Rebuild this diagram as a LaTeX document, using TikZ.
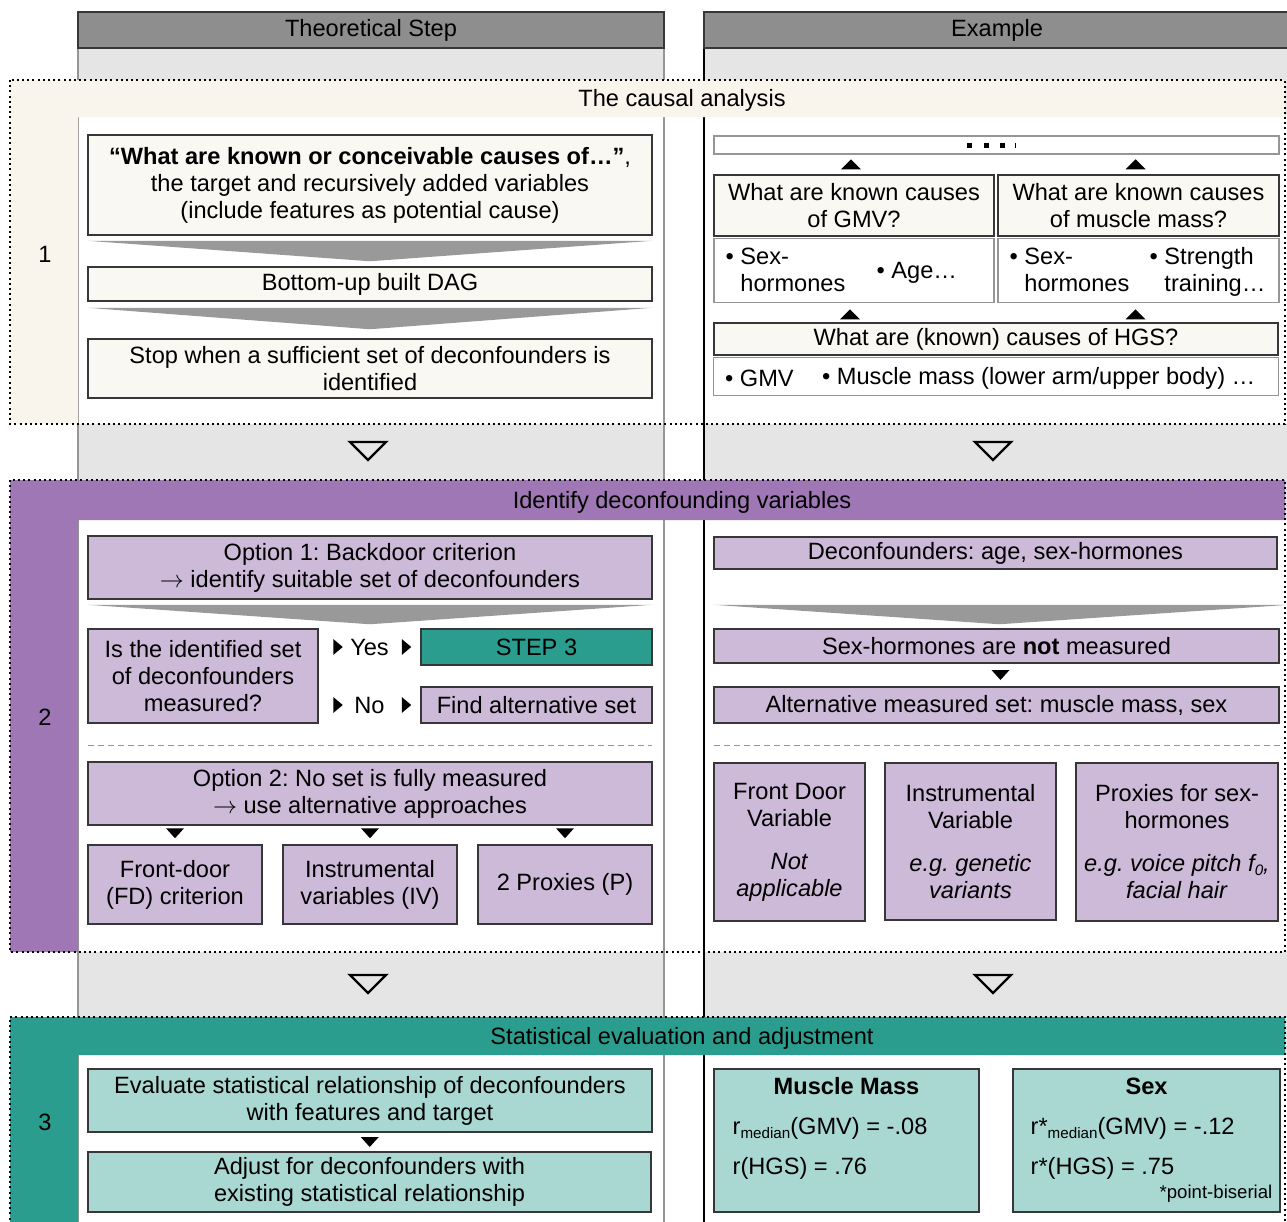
\documentclass[tikz,border=0pt]{standalone}
\usepackage{fontspec}
\setmainfont{Liberation Sans}
\usepackage{tikz}
\usetikzlibrary{calc,positioning}
\definecolor{hdrgray}{RGB}{142,142,142}
\definecolor{colgray}{RGB}{229,229,229}
\definecolor{creamband}{RGB}{249,245,237}
\definecolor{creambox}{RGB}{250,248,242}
\definecolor{lilacband}{RGB}{158,119,180}
\definecolor{lilacbox}{RGB}{205,185,216}
\definecolor{tealband}{RGB}{42,157,142}
\definecolor{tealbox}{RGB}{169,216,210}
\definecolor{wedgegray}{RGB}{153,153,153}
\definecolor{boxline}{RGB}{55,55,55}
\definecolor{softline}{RGB}{150,150,150}
\newcommand{\bul}[1]{•\ \begin{tabular}[t]{@{}l@{}}#1\end{tabular}}
\newcommand{\sublbl}[1]{\raisebox{-0.3ex}{\fontsize{7.6}{9}\selectfont #1}}
\newcommand{\arr}{$\rightarrow$}
\tikzset{
  txt/.style={font=\fontsize{11.8}{13.5}\selectfont, align=center, inner sep=0pt},
  px/.style 2 args={minimum width=#1*0.5pt, minimum height=#2*0.5pt},
  box/.style={txt, draw=boxline, line width=0.75pt},
  qbox/.style={box, fill=creambox},
  abox/.style={txt, draw=softline, line width=0.75pt, fill=white},
  pbox/.style={box, fill=lilacbox},
  tbox/.style={box, fill=tealbox},
  header/.style={box, fill=hdrgray, px={586}{36}},
  wedge/.style={fill=wedgegray},
  sect/.style={draw=black, line width=1pt, dash pattern=on 1pt off 1.6pt},
  sep/.style={draw=softline, line width=0.5pt, dash pattern=on 3pt off 2pt},
  dtri/.pic={\fill (-9,-5) -- (9,-5) -- (0,5) -- cycle;},
  utri/.pic={\fill (-10,5) -- (10,5) -- (0,-5) -- cycle;},
  rtri/.pic={\fill (-4.5,-8) -- (-4.5,8) -- (5,0) -- cycle;},
  otri/.pic={\draw[line width=1.2pt] (-18,-9) -- (18,-9) -- (0,9) -- cycle;},
}
\begin{document}
\frenchspacing
\begin{tikzpicture}[x=0.5pt,y=-0.5pt]
\useasboundingbox (0,0) rectangle (1287,1222);
\fill[colgray] (78,48) rectangle (664,1230);
\fill[colgray] (704,48) rectangle (1290,1230);
\fill[white] (78,117) rectangle (1290,424);
\fill[white] (78,520) rectangle (1290,952);
\fill[white] (78,1055) rectangle (1290,1230);
\draw[softline, line width=0.75pt] (78,48) -- (78,1230) (664,48) -- (664,1230);
\draw[black, line width=0.75pt] (704,48) -- (704,1230);
\fill[creamband] (10,80) rectangle (1285,117) (10,117) rectangle (78,424);
\fill[lilacband] (10,480) rectangle (1285,520) (10,520) rectangle (78,952);
\fill[tealband] (10,1017) rectangle (1285,1055) (10,1055) rectangle (78,1230);
\draw[sect] (10,80) rectangle (1285,424);
\draw[sect] (10,480) rectangle (1285,952);
\draw[sect] (10,1230) |- (1285,1017) -- (1285,1230);

\node[header] (hleft) at (371,30) {Theoretical Step};
\node[header] (hright) at (997,30) {Example};

\node[txt] (t1) at (682,100) {The causal analysis};
\node[txt] (t2) at (682,502) {Identify deconfounding variables};
\node[txt] (t3) at (682,1038) {Statistical evaluation and adjustment};
\node[txt] (n1) at (45,254) {1};
\node[txt] (n2) at (45,717) {2};
\node[txt] (n3) at (45,1122) {3};

\node[qbox, px={564}{100}] (known) at (370,185) {\textbf{“What are known or conceivable causes of…”},\\the target and recursively added variables\\(include features as potential cause)};
\node[qbox, px={564}{34}] (dag) at (370,284) {Bottom-up built DAG};
\node[qbox, px={564}{59}] (stop) at (370,368.5) {Stop when a sufficient set of deconfounders is\\identified};
\fill[wedge] ($(known.south west)+(0,5)$) -- ($(known.south east)+(0,5)$) -- ($(dag.north)+(0,-5)$) -- cycle;
\fill[wedge] ($(dag.south west)+(0,6)$) -- ($(dag.south east)+(0,6)$) -- ($(stop.north)+(0,-9)$) -- cycle;

\node[abox, px={565}{18}] (more) at (996.5,145) {};
\foreach \dx in {-30,-13,3}
  \fill ($(more.center)+(\dx,-2.5)$) rectangle ++(5,5);
\fill ($(more.center)+(18,-2.5)$) rectangle ++(1.2,5);
\node[qbox, px={280}{61}] (gmvq) at (854,205.5) {What are known causes\\of GMV?};
\node[abox, px={280}{64}, below=0.5pt of gmvq] (gmva) {};
\node[qbox, px={281}{61}] (mmq) at (1138.5,205.5) {What are known causes\\of muscle mass?};
\node[abox, px={281}{64}, below=0.5pt of mmq] (mma) {};
\node[txt, anchor=west] (gmvs) at ($(gmva.west)+(12,2)$) {\bul{Sex-\\hormones}};
\node[txt, anchor=west] (gmvt) at ($(gmva.west)+(163,2)$) {• Age…};
\node[txt, anchor=west] (mms) at ($(mma.west)+(12,2)$) {\bul{Sex-\\hormones}};
\node[txt, anchor=west] (mmt) at ($(mma.west)+(152,2)$) {\bul{Strength\\training…}};
\pic at ($(gmvq.north)+(-3,-10)$) {utri};
\pic at ($(mmq.north)+(-3,-10)$) {utri};
\node[qbox, px={564}{32}] (hgsq) at (996,339) {What are (known) causes of HGS?};
\node[abox, px={565}{38}, below=0.5pt of hgsq] (hgsa) {};
\node[txt, anchor=west] (hgs1) at ($(hgsa.west)+(12,2)$) {• GMV};
\node[txt, anchor=west] (hgs2) at ($(hgsa.west)+(109,2)$) {• Muscle mass (lower arm/upper body) …};
\pic at ($(gmva.south)+(-4,11)$) {utri};
\pic at ($(mma.south)+(-3,11)$) {utri};

\pic at (368,451) {otri};
\pic at (993,451) {otri};

\node[pbox, px={564}{63}] (opt1) at (370,567.5) {Option 1: Backdoor criterion\\\arr{} identify suitable set of deconfounders};
\node[pbox, px={230}{94}] (meas) at (203,676) {Is the identified set\\of deconfounders\\measured?};
\node[box, fill=tealband, px={231}{36}] (step3) at (536.5,647) {STEP 3};
\node[pbox, px={231}{36}] (alt) at (536.5,705) {Find alternative set};
\fill[wedge] ($(opt1.south west)+(0,5)$) -- ($(opt1.south east)+(0,5)$) -- ($(meas.north -| opt1.south)+(0,-4)$) -- cycle;
\node[txt] (yes) at ($(meas.east |- step3.center)!0.5!(step3.west)$) {Yes};
\node[txt] (no) at ($(meas.east |- alt.center)!0.5!(alt.west)$) {No};
\pic at ($(meas.east |- step3.center)+(19,0)$) {rtri};
\pic at ($(step3.west)+(-14,0)$) {rtri};
\pic at ($(meas.east |- alt.center)+(19,0)$) {rtri};
\pic at ($(alt.west)+(-14,0)$) {rtri};
\draw[sep] (88,745) -- (652,745);
\node[pbox, px={564}{63}] (opt2) at (370,793.5) {Option 2: No set is fully measured\\\arr{} use alternative approaches};
\node[pbox, px={174}{79}] (fd) at (175,884.5) {Front-door\\(FD) criterion};
\node[pbox, px={174}{79}] (iv) at (370,884.5) {Instrumental\\variables (IV)};
\node[pbox, px={174}{79}] (prx) at (565,884.5) {2 Proxies (P)};
\foreach \n in {fd,iv,prx}
  \pic at ($(\n.north)+(0,-11)$) {dtri};

\node[pbox, px={563}{32}] (dec) at (995.5,553) {Deconfounders: age, sex-hormones};
\node[pbox, px={565}{34}] (notm) at (996.5,646) {Sex-hormones are \textbf{not} measured};
\node[pbox, px={565}{36}] (altm) at (996.5,705) {Alternative measured set: muscle mass, sex};
\fill[wedge] ($(dec.south west)+(0,35)$) -- ($(dec.south east)+(12,35)$) -- ($(notm.north)+(3,-4)$) -- cycle;
\pic at ($(notm.south)!0.5!(altm.north)+(4,0)$) {dtri};
\draw[sep] (714,745) -- (1280,745);
\node[pbox, px={151}{158}] (fdv) at (789.5,842) {Front Door\\Variable\\[8pt]\textit{Not}\\\textit{applicable}};
\node[pbox, px={171}{157}] (ivv) at (970.5,841.5) {Instrumental\\Variable\\[8pt]\textit{e.g. genetic}\\\textit{variants}};
\node[pbox, px={202}{158}] (pxv) at (1177,842) {Proxies for sex-\\hormones\\[8pt]\textit{e.g. voice pitch f\sublbl{0},}\\\textit{facial hair}};

\pic at (368,984) {otri};
\pic at (993,984) {otri};

\node[tbox, px={564}{63}] (eval) at (370,1100.5) {Evaluate statistical relationship of deconfounders\\with features and target};
\node[tbox, px={563}{60}] (adj) at (369.5,1182) {Adjust for deconfounders with\\existing statistical relationship};
\pic at ($(eval.south)!0.5!(adj.north)$) {dtri};
\node[tbox, px={265}{143}] (mm) at (846.5,1140.5) {};
\node[tbox, px={267}{143}] (sex) at (1146.5,1140.5) {};
\node[txt] (mmh) at ($(mm.north)+(0,18)$) {\textbf{Muscle Mass}};
\node[txt, anchor=west] (mmr1) at ($(mm.north west)+(19,60)$) {r\sublbl{median}(GMV) = -.08};
\node[txt, anchor=west] (mmr2) at ($(mm.north west)+(19,100)$) {r(HGS) = .76};
\node[txt] (sexh) at ($(sex.north)+(0,18)$) {\textbf{Sex}};
\node[txt, anchor=west] (sexr1) at ($(sex.north west)+(18,60)$) {r*\sublbl{median}(GMV) = -.12};
\node[txt, anchor=west] (sexr2) at ($(sex.north west)+(18,100)$) {r*(HGS) = .75};
\node[txt, anchor=east, font=\fontsize{9.3}{11}\selectfont] (pb) at ($(sex.south east)+(-8,-19)$) {*point-biserial};
\end{tikzpicture}
\end{document}
